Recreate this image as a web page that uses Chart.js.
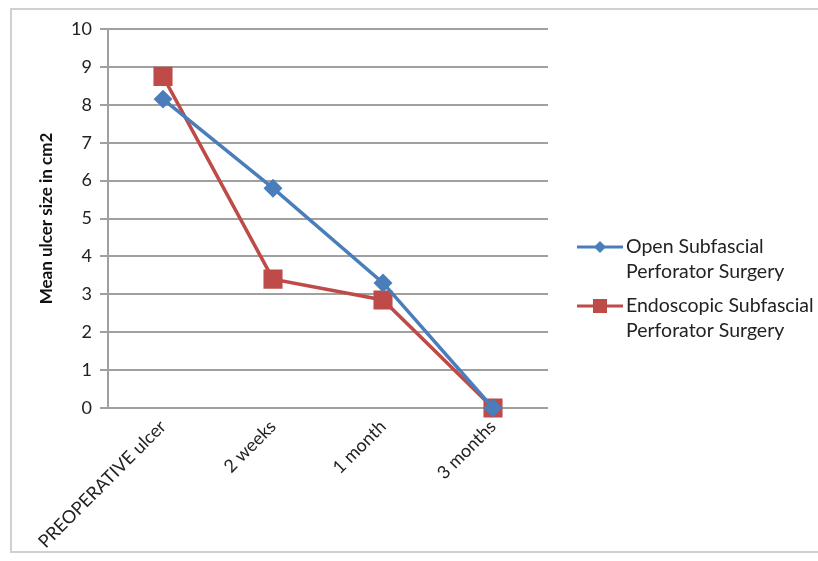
<!DOCTYPE html>
<html>
<head>
<meta charset="utf-8">
<script src="https://cdn.jsdelivr.net/npm/chart.js@4.4.1/dist/chart.umd.min.js"></script>
<style>
  html, body { margin: 0; padding: 0; background: #fff; }
  #wrap { position: relative; width: 818px; height: 561px; }
  #marco { position: absolute; left: 10px; top: 8px; width: 820px; height: 545px; border: 2px solid #d0d0d0; box-sizing: border-box; pointer-events: none; }
  canvas { position: absolute; left: 0; top: 0; }
</style>
</head>
<body>
<div id="wrap">
  <canvas id="grafico" width="818" height="561"></canvas>
  <div id="marco"></div>
</div>
<script>
var periodos = ['PREOPERATIVE ulcer', '2 weeks', '1 month', '3 months'];
var abierta = [8.15, 5.8, 3.3, 0];
var endoscopica = [8.75, 3.4, 2.85, 0];
var nombresSeries = [
    ['Open Subfascial', 'Perforator Surgery'],
    ['Endoscopic Subfascial', 'Perforator Surgery']
];
var marcasY = [0, 1, 2, 3, 4, 5, 6, 7, 8, 9, 10];

var fuente = 'Lato, "Open Sans", sans-serif';
var azul = '#4a7ebb';
var rojo = '#be4b48';

// leyenda a la derecha con etiquetas de dos lineas
const leyenda = {
    id: 'leyenda',
    afterDraw(chart) {
        const c = chart.ctx;
        const x0 = 577;
        const ys = [247, 306];
        c.save();
        chart.data.datasets.forEach((ds, i) => {
            const y = ys[i];
            c.strokeStyle = ds.borderColor;
            c.lineWidth = 3;
            c.beginPath();
            c.moveTo(x0, y);
            c.lineTo(x0 + 46, y);
            c.stroke();
            c.fillStyle = ds.backgroundColor;
            if (ds.pointStyle == 'rect') {
                c.fillRect(x0 + 16, y - 7, 14, 14);
            } else {
                c.beginPath();
                c.moveTo(x0 + 23, y - 6);
                c.lineTo(x0 + 29, y);
                c.lineTo(x0 + 23, y + 6);
                c.lineTo(x0 + 17, y);
                c.closePath();
                c.fill();
            }
            c.fillStyle = '#222';
            c.font = '19.5px ' + fuente;
            c.textBaseline = 'middle';
            c.textAlign = 'left';
            nombresSeries[i].forEach((t, k) => {
                c.fillText(t, x0 + 49, y + k * 25);
            });
        });
        c.restore();
    }
};

new Chart(document.getElementById('grafico'), {
    type: 'line',
    data: {
        labels: periodos,
        datasets: [{
            label: nombresSeries[0].join(' '),
            data: abierta,
            borderColor: azul,
            backgroundColor: azul,
            borderWidth: 3.5,
            pointStyle: 'rectRot',
            pointRadius: 7,
            pointHoverRadius: 7,
            tension: 0,
            clip: false
        }, {
            label: nombresSeries[1].join(' '),
            data: endoscopica,
            borderColor: rojo,
            backgroundColor: rojo,
            borderWidth: 3.5,
            pointStyle: 'rect',
            pointRadius: 11,
            pointHoverRadius: 11,
            tension: 0,
            clip: false
        }]
    },
    options: {
        responsive: false,
        animation: false,
        layout: { padding: { top: 29, right: 270, left: 0, bottom: 0 } },
        plugins: {
            legend: { display: false },
            tooltip: { enabled: false }
        },
        scales: {
            x: {
                offset: true,
                grid: { display: false, drawTicks: false },
                border: { display: false },
                ticks: {
                    minRotation: 45,
                    maxRotation: 45,
                    padding: 8,
                    color: '#222',
                    font: { family: fuente, size: 18 }
                },
                afterFit(scale) { scale.height = 153; }
            },
            y: {
                min: 0,
                max: 10,
                afterBuildTicks(scale) {
                    scale.ticks = marcasY.map(v => ({ value: v }));
                },
                grid: { color: '#a0a0a0', lineWidth: 2, tickLength: 8 },
                border: { color: '#a0a0a0', width: 2 },
                ticks: {
                    padding: 8,
                    color: '#222',
                    font: { family: fuente, size: 18 }
                },
                title: {
                    display: true,
                    text: 'Mean ulcer size in cm2',
                    color: '#111',
                    font: { family: fuente, size: 17, weight: 'bold' },
                    padding: { top: 36, bottom: 0 }
                },
                afterFit(scale) { scale.width = 108; }
            }
        }
    },
    plugins: [leyenda]
});
</script>
</body>
</html>
